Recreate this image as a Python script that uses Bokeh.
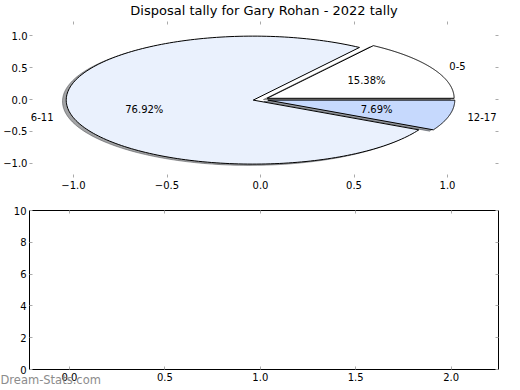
import numpy as np
from bokeh.plotting import figure
from bokeh.models import (ColumnDataSource, LinearAxis, Range1d, CustomJSTickFormatter,
                          Title, FixedTicker)
from bokeh.layouts import column
from bokeh.embed import file_html
from bokeh.resources import INLINE
from bokeh.core.properties import value

# ---------------- data ----------------
title_text = "Disposal tally for Gary Rohan - 2022 tally"
categories = ["0-5", "6-11", "12-17"]
counts = [2, 10, 1]
colors = ["#ffffff", "#eaf1fd", "#c6d9fd"]
explode = [0.04, 0.04, 0.04]
pie_x_ticks = [-1.0, -0.5, 0.0, 0.5, 1.0]
pie_y_ticks = [-1.0, -0.5, 0.0, 0.5, 1.0]
empty_x_ticks = [0.0, 0.5, 1.0, 1.5, 2.0]
empty_y_ticks = [0, 2, 4, 6, 8, 10]
watermark = "Dream-Stats.com"

FONT = "DejaVu Sans"
TICK_GREY = "#aaaaaa"

# ---------------- pie geometry (matplotlib-like) ----------------
total = float(sum(counts))
fracs = [c / total for c in counts]
xs, ys, sxs, sys_, shadow_cols = [], [], [], [], []
lab_x, lab_y, lab_align = [], [], []
pct_x, pct_y, pct_txt = [], [], []
theta = 0.0
SHADOW = -0.02
for frac, ex, col in zip(fracs, explode, colors):
    t1, t2 = theta, theta + 360.0 * frac
    mid = np.deg2rad((t1 + t2) / 2.0)
    cx, cy = ex * np.cos(mid), ex * np.sin(mid)
    ang = np.deg2rad(np.linspace(t1, t2, 200))
    px = np.concatenate([[cx], cx + np.cos(ang), [cx]])
    py = np.concatenate([[cy], cy + np.sin(ang), [cy]])
    xs.append(list(px)); ys.append(list(py))
    sxs.append(list(px + SHADOW)); sys_.append(list(py + SHADOW))
    rgb = [int(col[i:i + 2], 16) for i in (1, 3, 5)]
    shadow_cols.append("#%02x%02x%02x" % tuple(int(0.3 * c) for c in rgb))
    lx = cx + 1.1 * np.cos(mid); ly = cy + 1.1 * np.sin(mid)
    lab_x.append(lx); lab_y.append(ly); lab_align.append("left" if lx > 0 else "right")
    pct_x.append(cx + 0.6 * np.cos(mid)); pct_y.append(cy + 0.6 * np.sin(mid))
    pct_txt.append("%.2f%%" % (100.0 * frac))
    theta = t2

wedges = ColumnDataSource(dict(xs=xs, ys=ys, color=colors))
shadows = ColumnDataSource(dict(xs=sxs, ys=sys_, color=shadow_cols))
labels = ColumnDataSource(dict(x=lab_x, y=lab_y, text=categories, align=lab_align))
pcts = ColumnDataSource(dict(x=pct_x, y=pct_y, text=pct_txt))

fmt1 = CustomJSTickFormatter(code="return tick.toFixed(1).replace('-', '\u2212');")
fmt0 = CustomJSTickFormatter(code="return tick.toFixed(0);")
blank = CustomJSTickFormatter(code="return '';")


def style_axis(ax, ticks, fmt, show, line=None):
    ax.ticker = FixedTicker(ticks=ticks)
    ax.axis_line_color = line
    ax.major_tick_in = 3
    ax.major_tick_out = 0
    ax.minor_tick_line_color = None
    ax.major_tick_line_color = TICK_GREY
    ax.major_tick_line_width = 1
    if show:
        ax.formatter = fmt
        ax.major_label_text_font = FONT
        ax.major_label_text_font_size = "10px"
        ax.major_label_text_color = "black"
        ax.major_label_standoff = 3
    else:
        ax.formatter = blank
        ax.major_label_text_font_size = "0px"
        ax.major_label_standoff = 0


# frames of both panels are aligned by the column layout: left 29, right 498
# ---------------- top: pie ----------------
p1 = figure(width=520, height=198,
            x_range=Range1d(-1.2353, 1.2727), y_range=Range1d(-1.219, 1.219),
            output_backend="svg", toolbar_location=None,
            min_border_left=29, min_border_right=22, min_border_top=21, min_border_bottom=21)
p1.title = Title(text=title_text, align="center", vertical_align="top", text_font=FONT,
                 text_font_size="13px", text_font_style="normal", text_color="black", standoff=3)
p1.outline_line_color = None
p1.xgrid.visible = False
p1.ygrid.visible = False
style_axis(p1.xaxis[0], pie_x_ticks, fmt1, True)
style_axis(p1.yaxis[0], pie_y_ticks, fmt1, True)
p1.yaxis[0].major_label_standoff = 2
ax_top = LinearAxis(); style_axis(ax_top, pie_x_ticks, fmt1, False)
ax_right = LinearAxis(); style_axis(ax_right, pie_y_ticks, fmt1, False)
p1.add_layout(ax_top, "above")
p1.add_layout(ax_right, "right")

p1.patches("xs", "ys", source=shadows, fill_color="color", fill_alpha=0.5,
           line_color="color", line_alpha=0.5, line_width=1)
p1.patches("xs", "ys", source=wedges, fill_color="color", line_color="black", line_width=1)
p1.text("x", "y", text="text", source=labels, text_align="align", text_baseline="middle",
        text_font=value(FONT), text_font_size="10px", text_color="black")
p1.text("x", "y", text="text", source=pcts, text_align="center", text_baseline="middle",
        text_font=value(FONT), text_font_size="10px", text_color="black")

# ---------------- bottom: empty axes ----------------
p2 = figure(width=520, height=192,
            x_range=Range1d(-0.2096, 2.2484), y_range=Range1d(0, 10),
            output_backend="svg", toolbar_location=None,
            min_border_left=29, min_border_right=22, min_border_top=12, min_border_bottom=21)
p2.outline_line_color = "black"
p2.outline_line_width = 1
p2.xgrid.visible = False
p2.ygrid.visible = False
style_axis(p2.xaxis[0], empty_x_ticks, fmt1, True)
style_axis(p2.yaxis[0], empty_y_ticks, fmt0, True)
b_top = LinearAxis(); style_axis(b_top, empty_x_ticks, fmt1, False)
b_right = LinearAxis(); style_axis(b_right, empty_y_ticks, fmt0, False)
p2.add_layout(b_top, "above")
p2.add_layout(b_right, "right")
p2.add_layout(Title(text=watermark, align="left", vertical_align="top", offset=-29, standoff=-22,
                    text_font=FONT, text_font_size="11.5px", text_font_style="normal",
                    text_color="#8c8c8c"), "below")

layout = column(p1, p2, spacing=0)
open("out.html", "w").write(file_html(layout, INLINE))
